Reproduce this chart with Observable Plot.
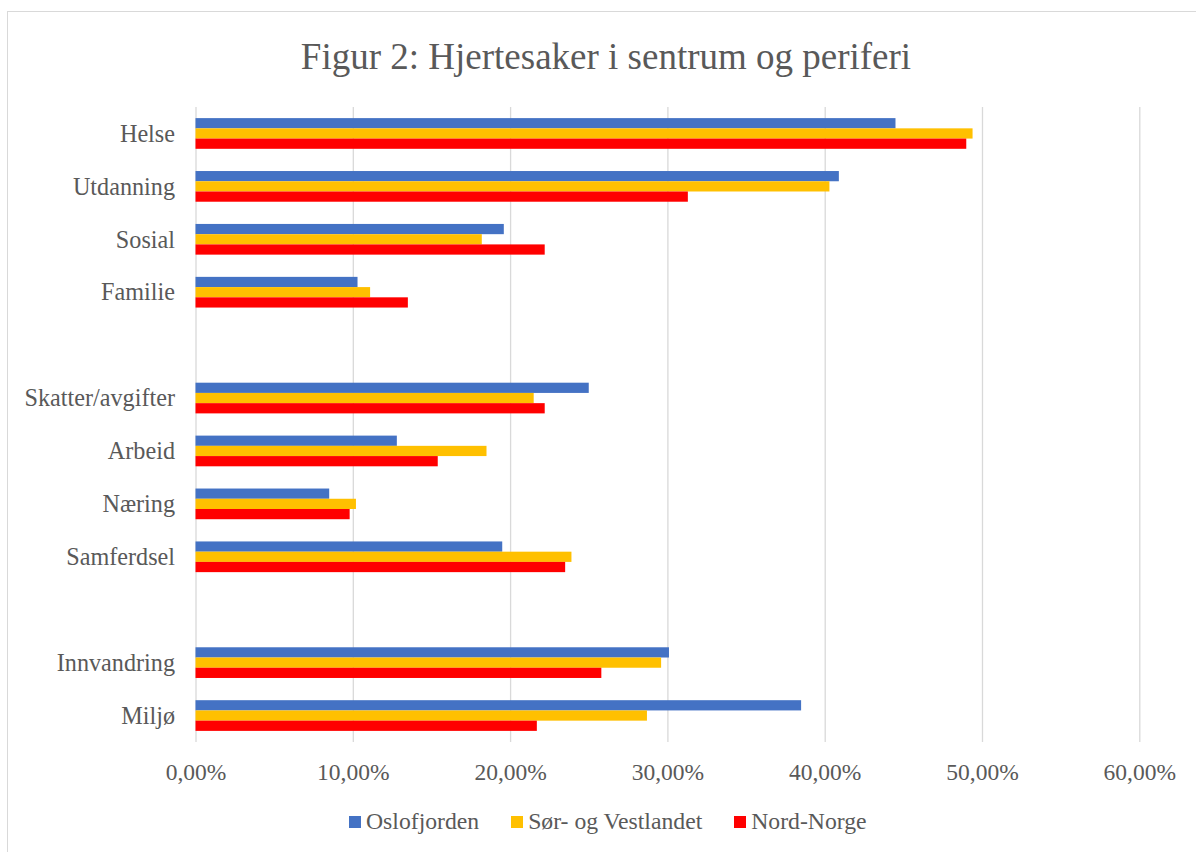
<!DOCTYPE html>
<html>
<head>
<meta charset="utf-8">
<script src="https://cdn.jsdelivr.net/npm/d3@7"></script>
<script src="https://cdn.jsdelivr.net/npm/@observablehq/plot@0.6"></script>
<style>
  html, body { margin: 0; padding: 0; background: #fff; overflow: hidden; }
  #frame {
    position: absolute; left: 7px; top: 11px; width: 1210px; height: 860px;
    border: 1px solid #d9d9d9; box-sizing: border-box; background: #fff;
    font-family: "Liberation Serif", "Times New Roman", serif; color: #595959;
  }
  #title {
    width: 1196px; height: 83px; display: flex; align-items: center; justify-content: center;
    font-size: 37px; line-height: 1; padding-top: 6px; box-sizing: border-box;
  }
  #chart svg { display: block; }
  #legend {
    display: flex; align-items: center; padding-left: 341px; height: 30px; margin-top: 7px;
    font-size: 23.7px; line-height: 1;
  }
  .item { display: flex; align-items: center; margin-right: 32px; }
  .sw { width: 12px; height: 12px; margin-right: 5px; }
</style>
</head>
<body>
<div id="frame">
  <div id="title">Figur 2: Hjertesaker i sentrum og periferi</div>
  <div id="chart"></div>
  <div id="legend"></div>
</div>
<script>
// Categories (two blank separators between groups)
const categories = ["Helse", "Utdanning", "Sosial", "Familie", " ", "Skatter/avgifter", "Arbeid", "Næring", "Samferdsel", "  ", "Innvandring", "Miljø"];
const series = ["Oslofjorden", "Sør- og Vestlandet", "Nord-Norge"];
const colors = ["#4472C4", "#FFC000", "#FF0000"];
// Values in percent
const oslofjorden = [44.5, 40.9, 19.6, 10.3, null, 25.0, 12.8, 8.5, 19.5, null, 30.1, 38.5];
const sorOgVestlandet = [49.4, 40.3, 18.2, 11.1, null, 21.5, 18.5, 10.2, 23.9, null, 29.6, 28.7];
const nordNorge = [49.0, 31.3, 22.2, 13.5, null, 22.2, 15.4, 9.8, 23.5, null, 25.8, 21.7];
const xTicks = [0, 0.1, 0.2, 0.3, 0.4, 0.5, 0.6];
const xTickLabels = ["0,00%", "10,00%", "20,00%", "30,00%", "40,00%", "50,00%", "60,00%"];

const valuesBySeries = [oslofjorden, sorOgVestlandet, nordNorge];
const rows = [];
series.forEach((s, k) => {
  valuesBySeries[k].forEach((v, i) => {
    if (v != null) rows.push({series: s, category: categories[i], value: v / 100});
  });
});

const W = 1180, H = 705, mt = 12, mb = 58;
const padIn = 0.42, padOut = 0.21;
const step = (H - mt - mb) / (categories.length - padIn + 2 * padOut);
const bw = step * (1 - padIn);
const sub = bw / series.length;

const bars = series.map((s, k) => Plot.barX(rows.filter(r => r.series === s), {
  x: "value", y: "category", fill: colors[k],
  insetTop: k * sub, insetBottom: (series.length - 1 - k) * sub
}));

const chart = Plot.plot({
  width: W, height: H,
  marginLeft: 187.5, marginRight: 48.7, marginTop: mt, marginBottom: mb,
  style: {fontFamily: "'Liberation Serif', 'Times New Roman', serif", color: "#595959", background: "transparent"},
  x: {domain: [0, 0.6], label: null},
  y: {domain: categories, paddingInner: padIn, paddingOuter: padOut, round: false, label: null},
  marks: [
    Plot.gridX(xTicks, {stroke: "#d9d9d9", strokeOpacity: 1, strokeWidth: 1.3}),
    ...bars,
    Plot.axisX(xTicks, {tickSize: 0, tickPadding: 21, fontSize: 23.5, fill: "#595959", label: null,
      tickFormat: d => xTickLabels[xTicks.indexOf(d)]}),
    Plot.axisY({tickSize: 0, tickPadding: 21, fontSize: 24.2, fill: "#595959", label: null})
  ]
});
document.getElementById("chart").appendChild(chart);

const legend = document.getElementById("legend");
series.forEach((s, k) => {
  const item = document.createElement("div");
  item.className = "item";
  const sw = document.createElement("span");
  sw.className = "sw";
  sw.style.background = colors[k];
  const t = document.createElement("span");
  t.textContent = s;
  item.appendChild(sw);
  item.appendChild(t);
  legend.appendChild(item);
});
</script>
</body>
</html>
